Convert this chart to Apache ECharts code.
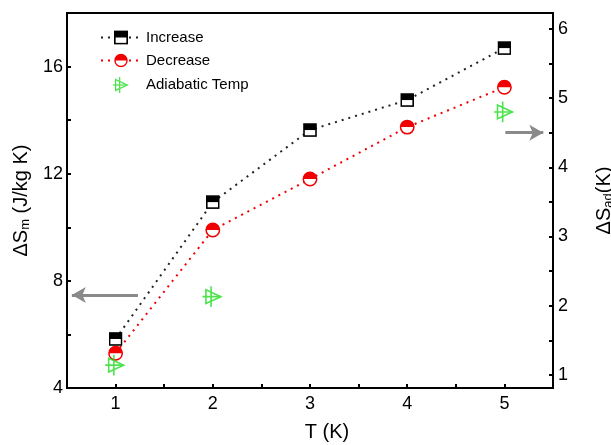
<!DOCTYPE html>
<html>
<head>
<meta charset="utf-8">
<script src="https://cdn.jsdelivr.net/npm/echarts@6/dist/echarts.min.js"></script>
<style>
  html, body { margin: 0; padding: 0; background: #fff; }
  #chart { width: 611px; height: 445px; }
</style>
</head>
<body>
<div id="chart"></div>
<script>
// data
var temps = [1, 2, 3, 4, 5];
var increase = [5.83, 10.94, 13.63, 14.75, 16.69];
var decrease = [5.3, 9.9, 11.8, 13.74, 15.23];
var adiabaticX = [1, 2, 5];
var adiabatic = [1.14, 2.13, 4.8];
var rightTicks = [1, 1.5, 2, 2.5, 3, 3.5, 4, 4.5, 5, 5.5, 6];
var rightLabels = [1, 2, 3, 4, 5, 6];
// arrows (data space)
var arrowLeft = [[1.23, 7.47], [0.55, 7.47]];
var arrowRight = [[5.01, 4.5], [5.4, 4.5]];

function svgIcon(s) {
    return 'image://data:image/svg+xml;charset=utf-8,' + encodeURIComponent(s)
}
var squareIcon = svgIcon("<svg xmlns='http://www.w3.org/2000/svg' width='14' height='14'><rect x='1' y='1' width='12' height='12' fill='white' stroke='black' stroke-width='1.6'/><rect x='1' y='1' width='12' height='6' fill='black'/></svg>");
var circleIcon = svgIcon("<svg xmlns='http://www.w3.org/2000/svg' width='16' height='16'><circle cx='8' cy='8' r='6.7' fill='white' stroke='#f00000' stroke-width='1.5'/><path d='M1.3 8 A6.7 6.7 0 0 1 14.7 8 Z' fill='#f00000'/></svg>");
var triIcon = svgIcon("<svg xmlns='http://www.w3.org/2000/svg' width='20' height='20'><polygon points='4,4 17,10 4,16' fill='none' stroke='#22dd22' stroke-width='1.4'/><line x1='8.5' y1='1' x2='8.5' y2='19' stroke='#22dd22' stroke-width='1.4'/><line x1='1' y1='10' x2='17' y2='10' stroke='#22dd22' stroke-width='1.4'/></svg>");

function pairs(xs, ys) {
    return xs.map(function(x, i) { return [x, ys[i]] })
}

var myChart = echarts.init(document.getElementById('chart'));
var font = 'Liberation Sans, Arial, sans-serif';
var richName = {
    a: { fontSize: 20, fontFamily: font, color: '#000', lineHeight: 22 },
    b: { fontSize: 13, fontFamily: font, color: '#000', verticalAlign: 'bottom', lineHeight: 22, padding: [7, 0, 0, 0] }
};
var option = {
    animation: false,
    textStyle: { fontFamily: font },
    grid: {
        left: 67, right: 58, top: 13, bottom: 57,
        outerBoundsMode: 'none',
        show: true, borderColor: '#000', borderWidth: 2, backgroundColor: '#fff'
    },
    legend: {
        orient: 'vertical',
        left: 95,
        top: 25,
        itemWidth: 40,
        itemHeight: 18,
        itemGap: 8,
        textStyle: { fontSize: 15, color: '#000', fontFamily: font },
        data: ['Increase', 'Decrease', 'Adiabatic Temp']
    },
    xAxis: {
        type: 'value',
        min: 0.5, max: 5.5, interval: 0.5,
        name: 'T (K)',
        nameLocation: 'middle',
        nameGap: 34,
        nameTextStyle: { fontSize: 20, color: '#000', fontFamily: font, padding: [0, 0, 0, 34] },
        axisLine: { lineStyle: { color: '#000', width: 2 } },
        axisTick: { inside: true, length: 4, lineStyle: { color: '#000', width: 2 } },
        axisLabel: {
            fontSize: 18, color: '#000', margin: 7,
            formatter: function(v) { return v % 1 === 0 ? v : '' }
        },
        splitLine: { show: false }
    },
    yAxis: [{
        type: 'value',
        min: 4, max: 18, interval: 2,
        name: '{a|ΔS}{b|m}{a| (J/kg K)}',
        nameLocation: 'middle',
        nameGap: 34,
        nameTextStyle: { color: '#000', rich: richName },
        axisLine: { show: true, lineStyle: { color: '#000', width: 2 } },
        axisTick: { show: true, inside: true, length: 4, lineStyle: { color: '#000', width: 2 } },
        axisLabel: {
            fontSize: 18, color: '#000', margin: 4,
            formatter: function(v) { return v % 4 === 0 ? v : '' }
        },
        splitLine: { show: false }
    }, {
        type: 'value',
        position: 'right',
        min: 0.81, max: 6.23,
        name: '{a|ΔS}{b|ad}{a|(K)}',
        nameLocation: 'middle',
        nameRotate: 90,
        nameGap: 40,
        nameTextStyle: { color: '#000', rich: richName },
        axisLine: { show: true, lineStyle: { color: '#000', width: 2 } },
        axisTick: { show: true, inside: true, length: 4, customValues: rightTicks, lineStyle: { color: '#000', width: 2 } },
        axisLabel: { fontSize: 18, color: '#000', margin: 5, customValues: rightLabels },
        splitLine: { show: false }
    }],
    series: [{
        name: 'Decrease',
        type: 'line',
        yAxisIndex: 0,
        data: pairs(temps, decrease),
        symbol: circleIcon,
        symbolSize: 16,
        itemStyle: { color: '#f00000' },
        lineStyle: { color: '#f00000', width: 2, type: [2, 5] },
        z: 2,
        markLine: {
            silent: true,
            symbol: ['none', 'arrow'],
            symbolSize: [12, 14],
            label: { show: false },
            lineStyle: { color: '#8a8a8a', width: 3, type: 'solid' },
            data: [[{ coord: arrowLeft[0] }, { coord: arrowLeft[1] }]]
        }
    }, {
        name: 'Increase',
        type: 'line',
        yAxisIndex: 0,
        data: pairs(temps, increase),
        symbol: squareIcon,
        symbolSize: 14,
        itemStyle: { color: '#000' },
        lineStyle: { color: '#222', width: 2, type: [2, 5] },
        z: 3
    }, {
        name: 'Adiabatic Temp',
        type: 'scatter',
        yAxisIndex: 1,
        data: pairs(adiabaticX, adiabatic),
        symbol: triIcon,
        symbolSize: 23,
        itemStyle: { color: '#22dd22' },
        z: 4,
        markLine: {
            silent: true,
            symbol: ['none', 'arrow'],
            symbolSize: [12, 14],
            label: { show: false },
            lineStyle: { color: '#8a8a8a', width: 3, type: 'solid' },
            data: [[{ coord: arrowRight[0] }, { coord: arrowRight[1] }]]
        }
    }]
};
myChart.setOption(option);
</script>
</body>
</html>
